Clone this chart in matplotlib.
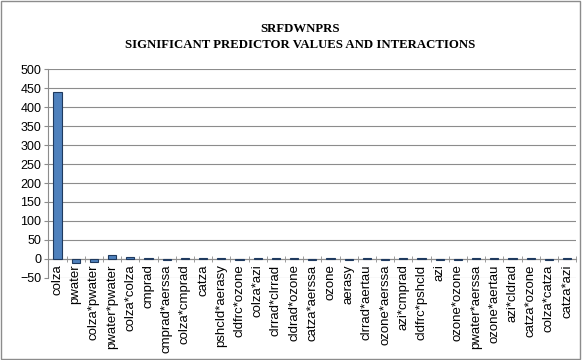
import matplotlib
matplotlib.use("Agg")
import matplotlib.pyplot as plt
import numpy as np
from matplotlib.patches import Rectangle

# Predictor effect values
predictors = ["colza", "pwater", "colza*pwater", "pwater*pwater", "colza*colza",
              "cmprad", "cmprad*aerssa", "colza*cmprad", "catza", "pshcld*aerasy",
              "cldfrc*ozone", "colza*azi", "clrrad*clrrad", "cldrad*ozone",
              "catza*aerssa", "ozone", "aerasy", "clrrad*aertau", "ozone*aerssa",
              "azi*cmprad", "cldfrc*pshcld", "azi", "ozone*ozone", "pwater*aerssa",
              "ozone*aertau", "azi*cldrad", "catza*ozone", "colza*catza", "catza*azi"]
values = [440, -12, -7, 11, 6,
          2, -2, 2, 2, 2,
          -2, 2, 2, 2,
          -2, 2, -2, 2, -2,
          2, 2, -2, -2, 2,
          2, 2, 2, -2, 2]
y_ticks = list(range(-50, 501, 50))

plt.rcParams['font.family'] = ['Liberation Sans', 'DejaVu Sans']

fig = plt.figure(figsize=(5.82, 3.6), dpi=100)
# outer chart border
fig.patches.append(Rectangle((0.002, 0.003), 0.995, 0.993, transform=fig.transFigure,
                             fill=False, edgecolor='#8c8c8c', linewidth=1))

ax = fig.add_axes([0.083, 0.228, 0.907, 0.58])
# move the category axis to zero first (this resets the tick objects)
ax.spines['bottom'].set_position(('data', 0))

x = np.arange(len(predictors))
ax.bar(x, values, width=0.45, color='#4F81BD', edgecolor='#1f3a5f', linewidth=0.8, zorder=3)

ax.set_xlim(-0.5, len(predictors) - 0.5)
ax.set_ylim(-50, 500)
ax.set_yticks(y_ticks)
ax.tick_params(axis='y', labelsize=9, length=3, color='#8c8c8c', pad=2)
ax.yaxis.grid(True, color='#8c8c8c', linewidth=0.8)
ax.set_axisbelow(True)

# category labels, ticks crossing the zero line at category boundaries
ax.set_xticks(x)
ax.set_xticklabels(predictors, rotation=90, fontsize=9.5)
ax.tick_params(axis='x', which='major', length=0, pad=4)
ax.set_xticks(np.arange(-0.5, len(predictors)), minor=True)
ax.tick_params(axis='x', which='minor', direction='inout', length=5, color='#8c8c8c')
for s in ['top', 'right']:
    ax.spines[s].set_visible(False)
ax.spines['bottom'].set_color('#8c8c8c')
ax.spines['left'].set_color('#8c8c8c')

fig.text(0.515, 0.897, "SRFDWNPRS\nSIGNIFICANT PREDICTOR VALUES AND INTERACTIONS",
         ha='center', va='center', fontsize=9.2, fontweight='bold',
         family=['Liberation Serif'], linespacing=1.45)

fig.savefig('out.png', dpi=100)
